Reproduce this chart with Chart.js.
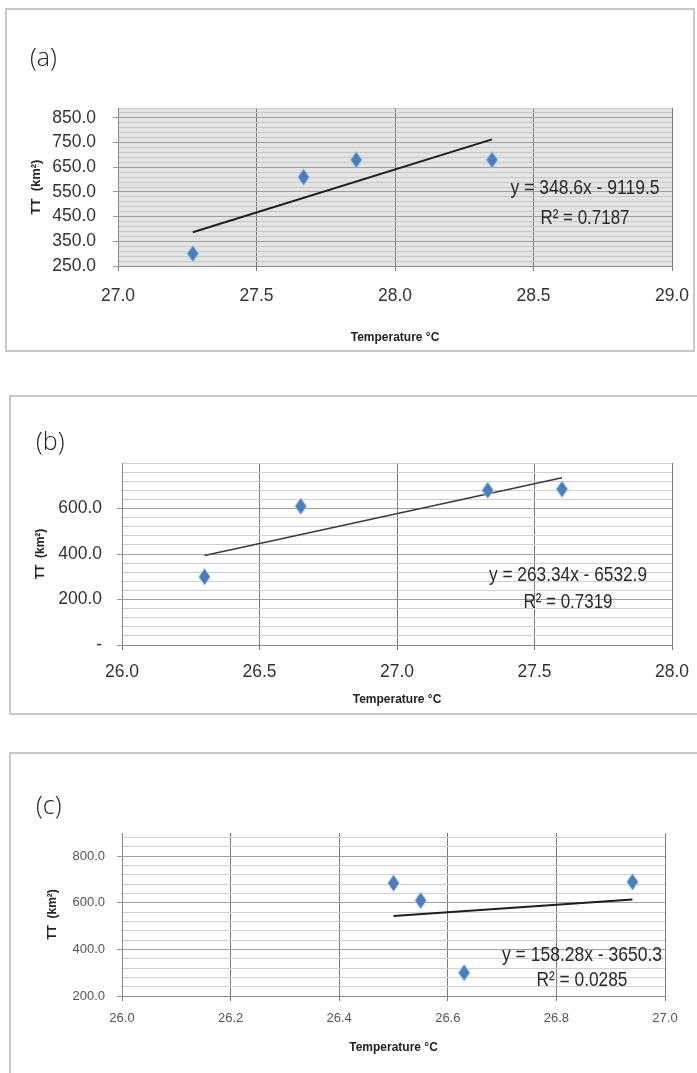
<!DOCTYPE html>
<html>
<head>
<meta charset="utf-8">
<script src="https://cdn.jsdelivr.net/npm/chart.js@4.4.0/dist/chart.umd.min.js"></script>
<style>
  body { margin: 0; background: #fff; width: 697px; height: 1073px; position: relative; overflow: hidden; }
  .box { position: absolute; border: 2px solid #c8c8c8; box-sizing: border-box; }
  canvas { position: absolute; left: 0; }
</style>
</head>
<body>
<div class="box" style="left:5px;top:8px;width:690px;height:344px"></div>
<div class="box" style="left:9px;top:395px;width:700px;height:320px"></div>
<div class="box" style="left:9px;top:752px;width:700px;height:330px"></div>
<canvas id="chartA" width="697" height="344" style="top:8px"></canvas>
<canvas id="chartB" width="697" height="320" style="top:395px"></canvas>
<canvas id="chartC" width="697" height="321" style="top:752px"></canvas>
<script>
// (a) data
var tempA = [27.27, 27.67, 27.86, 28.35];
var areaA = [300, 610, 680, 680];
var trendXA = [27.27, 28.35];
var trendYA = [387, 763];
var yTicksA = [250, 350, 450, 550, 650, 750, 850];

// (b) data
var tempB = [26.30, 26.65, 27.33, 27.60];
var areaB = [300, 610, 680, 685];
var trendXB = [26.30, 27.60];
var trendYB = [393, 735];
var yTicksB = [0, 200, 400, 600];

// (c) data
var tempC = [26.50, 26.55, 26.63, 26.94];
var areaC = [685, 610, 300, 690];
var trendXC = [26.50, 26.94];
var trendYC = [544, 614];
var yTicksC = [200, 400, 600, 800];

var FONT = '"Liberation Sans", Arial, sans-serif';

// diamond marker, a bit taller than wide like the picture
function diamond() {
  var c = document.createElement('canvas');
  c.width = 15; c.height = 19;
  var g = c.getContext('2d');
  function d(w, h, col) {
    g.beginPath();
    g.moveTo(7.5, 9.5 - h); g.lineTo(7.5 + w, 9.5); g.lineTo(7.5, 9.5 + h); g.lineTo(7.5 - w, 9.5);
    g.closePath(); g.fillStyle = col; g.fill();
  }
  d(7, 9.5, 'rgba(200,220,240,0.6)');
  d(5.5, 8, '#4a7ebb');
  return c;
}
var marker = diamond();

function pts(xs, ys) {
  return xs.map(function(x, i){ return { x: x, y: ys[i] }; });
}

// narrow text: squeeze horizontally to the wanted width
function narrowText(ctx, txt, cx, cy, w) {
  var m = ctx.measureText(txt).width;
  ctx.save();
  ctx.translate(cx, cy);
  ctx.scale(w / m, 1);
  ctx.fillText(txt, 0, 0);
  ctx.restore();
}

var panelText = {
  id: 'panelText',
  beforeDraw: function(chart, args, o) {
    var a = chart.chartArea, ctx = chart.ctx;
    ctx.save();
    ctx.fillStyle = o.bg;
    ctx.fillRect(a.left, a.top, a.right - a.left, a.bottom - a.top);
    ctx.restore();
  },
  afterDraw: function(chart, args, o) {
    var ctx = chart.ctx;
    ctx.save();
    ctx.fillStyle = '#222';
    ctx.textBaseline = 'middle';
    ctx.font = '300 25px "Open Sans"';
    ctx.textAlign = 'left';
    ctx.fillText(o.letter, o.lx, o.ly);
    ctx.fillStyle = '#2a2a2a';
    ctx.textAlign = 'center';
    ctx.font = '20px ' + FONT;
    narrowText(ctx, o.eq, o.ex, o.ey1, o.w1);
    narrowText(ctx, o.r2, o.ex, o.ey2, o.w2);
    ctx.restore();
  }
};

function makePanel(id, p) {
  var majorSet = p.yTicks;
  new Chart(document.getElementById(id), {
    type: 'scatter',
    data: {
      datasets: [
        { data: pts(p.xs, p.ys), pointStyle: marker, pointRadius: 7, order: 1 },
        { type: 'line', data: pts(p.tx, p.ty), borderColor: p.lineColor, borderWidth: p.lineWidth,
          pointRadius: 0, fill: false, order: 2 }
      ]
    },
    options: {
      responsive: false,
      animation: false,
      events: [],
      layout: { padding: p.pad },
      plugins: { legend: { display: false }, tooltip: { enabled: false }, panelText: p.text },
      scales: {
        x: {
          type: 'linear', min: p.xMin, max: p.xMax,
          // fixed height, and no extra room for the end labels (layout padding handles it)
          afterFit: function(s){ s.height = p.xH; s.paddingLeft = 0; s.paddingRight = 0; },
          ticks: { stepSize: p.xStep, color: p.tickColor, padding: p.xTickPad,
                   font: { family: FONT, size: p.xTickSize },
                   callback: function(v){ return v.toFixed(1); } },
          grid: { color: p.vGrid, tickLength: 5, tickColor: p.vGrid },
          border: { color: '#888' },
          title: { display: true, text: 'Temperature °C', color: '#222',
                   font: { family: FONT, size: 12, weight: 'bold' }, padding: { top: 0, bottom: p.xTitlePad } }
        },
        y: {
          min: p.yMin, max: p.yMax,
          afterFit: function(s){ s.width = p.yW; },
          afterBuildTicks: function(s){
            var t = [];
            for (var v = p.yMin; v <= p.yMax + 0.001; v += p.yMinor) t.push({ value: v });
            s.ticks = t;
          },
          ticks: { autoSkip: false, color: p.tickColor, padding: p.yTickPad,
                   font: { family: FONT, size: p.yTickSize },
                   callback: function(v){
                     if (majorSet.indexOf(v) < 0) return '';
                     return v === 0 ? '-' : v.toFixed(1);
                   } },
          grid: {
            tickLength: 5,
            color: function(c){ return majorSet.indexOf(c.tick.value) >= 0 ? p.hMajor : p.hMinor; },
            tickColor: function(c){ return majorSet.indexOf(c.tick.value) >= 0 ? '#999' : 'rgba(0,0,0,0)'; }
          },
          border: { color: '#888' },
          title: { display: true, text: 'TT  (km²)', color: '#222',
                   font: { family: FONT, size: p.yTitleSize, weight: 'bold' }, padding: { top: p.yTitlePad, bottom: 0 } }
        }
      }
    },
    plugins: [panelText]
  });
}

makePanel('chartA', {
  xs: tempA, ys: areaA, tx: trendXA, ty: trendYA, yTicks: yTicksA,
  lineColor: '#1e1e1e', lineWidth: 2,
  xMin: 27, xMax: 29, xStep: 0.5, yMin: 250, yMax: 890, yMinor: 20,
  pad: { left: 28, right: 25, top: 100, bottom: 6 }, yW: 90, xH: 80,
  xTickPad: 15, yTickPad: 17, xTickSize: 17.5, yTickSize: 17.5, tickColor: '#333',
  xTitlePad: 1, yTitlePad: 1, yTitleSize: 13,
  vGrid: '#7a7a7a', hMajor: '#a0a0a0', hMinor: '#c8c8c8',
  text: { bg: '#e4e4e4', letter: '(a)', lx: 30, ly: 51,
          eq: 'y = 348.6x - 9119.5', r2: 'R² = 0.7187', ex: 585, ey1: 180, ey2: 210, w1: 149, w2: 89 }
});

makePanel('chartB', {
  xs: tempB, ys: areaB, tx: trendXB, ty: trendYB, yTicks: yTicksB,
  lineColor: '#3a3a3a', lineWidth: 1.5,
  xMin: 26, xMax: 28, xStep: 0.5, yMin: 0, yMax: 800, yMinor: 40,
  pad: { left: 28, right: 25, top: 68, bottom: 8 }, yW: 94, xH: 62,
  xTickPad: 12, yTickPad: 15, xTickSize: 17.5, yTickSize: 17.5, tickColor: '#333',
  xTitlePad: 0, yTitlePad: 5, yTitleSize: 12,
  vGrid: '#7a7a7a', hMajor: '#a0a0a0', hMinor: '#cfcfcf',
  text: { bg: '#ffffff', letter: '(b)', lx: 36, ly: 48,
          eq: 'y = 263.34x - 6532.9', r2: 'R² = 0.7319', ex: 568, ey1: 180, ey2: 207, w1: 158, w2: 89 }
});

makePanel('chartC', {
  xs: tempC, ys: areaC, tx: trendXC, ty: trendYC, yTicks: yTicksC,
  lineColor: '#1e1e1e', lineWidth: 2,
  xMin: 26, xMax: 27, xStep: 0.2, yMin: 200, yMax: 900, yMinor: 40,
  pad: { left: 28, right: 32, top: 81, bottom: 17 }, yW: 94, xH: 60,
  xTickPad: 10, yTickPad: 12, xTickSize: 13, yTickSize: 13, tickColor: '#555',
  xTitlePad: 1, yTitlePad: 17, yTitleSize: 12,
  vGrid: '#7a7a7a', hMajor: '#a0a0a0', hMinor: '#cfcfcf',
  text: { bg: '#ffffff', letter: '(c)', lx: 36, ly: 55,
          eq: 'y = 158.28x - 3650.3', r2: 'R² = 0.0285', ex: 582, ey1: 203, ey2: 228, w1: 160, w2: 91 }
});
</script>
</body>
</html>
